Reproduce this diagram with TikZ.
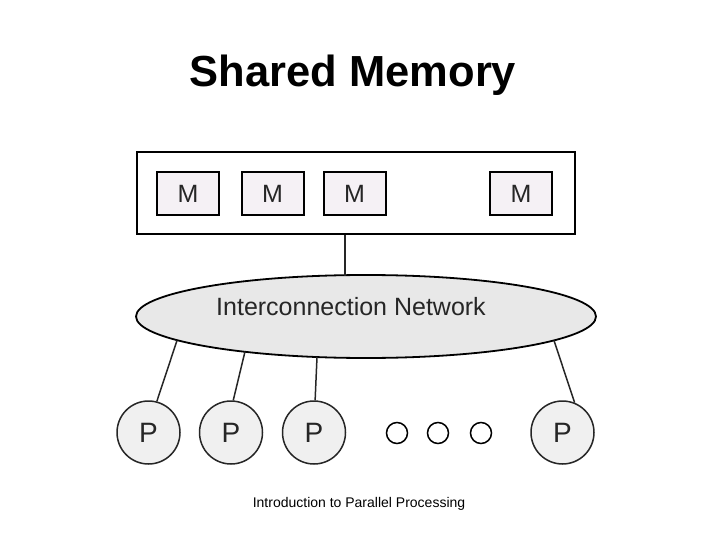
\documentclass[tikz,border=0pt]{standalone}
\usepackage{fontspec}
\setmainfont{Liberation Sans}
\usetikzlibrary{shapes.geometric}
\definecolor{mfill}{HTML}{F5F1F5}
\definecolor{pfill}{HTML}{F0F0F0}
\definecolor{nfill}{HTML}{E8E8E8}
\tikzset{
  membox/.style={draw=black,line width=2pt,fill=mfill,minimum width=62pt,minimum height=43pt,inner sep=0pt,font=\fontsize{25}{25}\selectfont,text=black!85},
  proc/.style={circle,draw=black!85,line width=1.5pt,fill=pfill,minimum size=63pt,inner sep=0pt,font=\fontsize{28}{28}\selectfont,text=black!85},
  dotc/.style={circle,draw=black,line width=1.5pt,fill=white,minimum size=21pt,inner sep=0pt},
  link/.style={draw=black!85,line width=1.5pt}
}
\begin{document}
\begin{tikzpicture}[x=1pt,y=-1pt]
\useasboundingbox (0,0) rectangle (720,540);
\node[anchor=base,font=\fontsize{43.5}{43.5}\selectfont\bfseries] (title) at (353,87) {Shared Memory};
\node[draw=black,line width=2pt,minimum width=438pt,minimum height=82pt,inner sep=0pt] (mem) at (356,193) {};
\node[membox] (m1) at (188,193.5) {M};
\node[membox] (m2) at (272.5,193.5) {M};
\node[membox] (m3) at (354.5,193.5) {M};
\node[membox] (m4) at (521,193.5) {M};
\node[ellipse,draw=black,line width=1.8pt,fill=nfill,minimum width=460pt,minimum height=83pt,inner sep=0pt] (net) at (366,316.5) {};
\node[font=\fontsize{25}{25}\selectfont,text=black!85] (netlbl) at (351,307) {Interconnection Network};
\node[proc] (p1) at (148.5,432.5) {P};
\node[proc] (p2) at (231,432.5) {P};
\node[proc] (p3) at (314,432.5) {P};
\node[proc] (p4) at (562.5,432.5) {P};
\node[dotc] (d1) at (397,433) {};
\node[dotc] (d2) at (438,433) {};
\node[dotc] (d3) at (481,433) {};
\coordinate (etop) at (345,275.5);
\coordinate (e1) at (177,340.5);
\coordinate (e2) at (245,351.5);
\coordinate (e3) at (317,357);
\coordinate (e4) at (554,340.5);
\draw[link] (mem.south -| etop) -- (etop);
\draw[link] (p1.75) -- (e1);
\draw[link] (p2.86) -- (e2);
\draw[link] (p3.88) -- (e3);
\draw[link] (p4.68) -- (e4);
\node[font=\fontsize{14}{14}\selectfont] (foot) at (359,504) {Introduction to Parallel Processing};
\end{tikzpicture}
\end{document}
